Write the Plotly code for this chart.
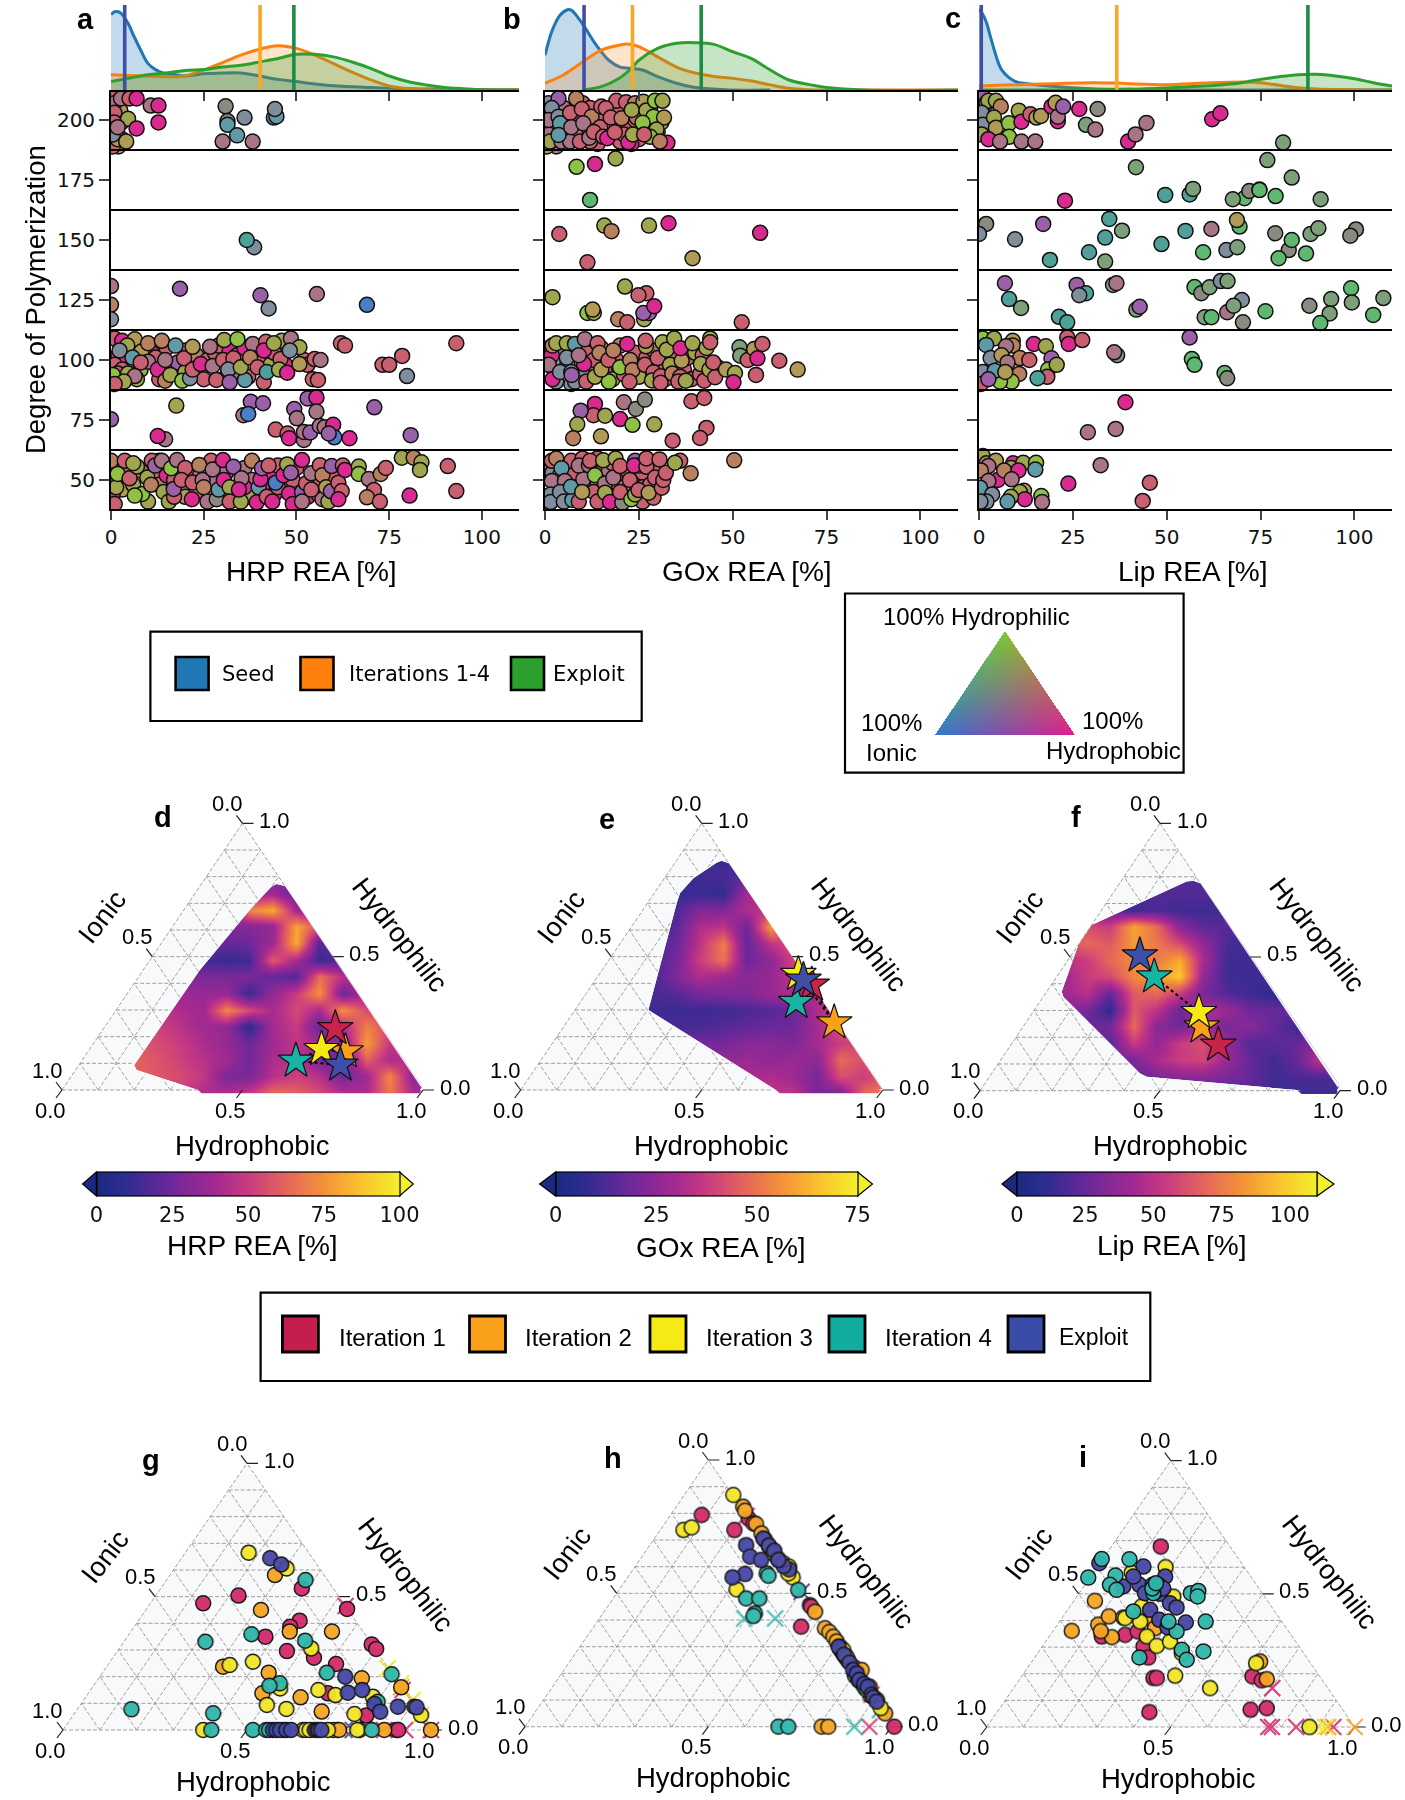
import numpy as np
import plotly.graph_objects as go

W, H = 1405, 1800
def fx(p): return p / W
def fy(p): return 1 - p / H

PAL = dict(p='#d92a8f', r='#c9606f', o='#b9805f', n='#b09a55', g='#9fa64e', l='#8fc244', s='#808d9c',
           t='#5f9aa6', v='#9a60a8', m='#a87486', b='#4a7fc8', e='#7da07a', q='#5fb86f', a='#4fa098', c='#8a8a80')

# ---------- panel a: HRP REA vs degree of polymerization ----------
A_200_BACK = [(1,205,'o'),(0.5,201,'r'),(2.5,204,'n'),(0.5,197,'m'),(3,192,'s'),(2,189,'n'),(0.5,189,'r'),(2.8,199,'n'),(1,210,'r')]
A_200 = [(0.9,207,'m'),(0.9,203,'r'),(0.9,199,'r'),(1.6,196.5,'p'),(1.8,192,'n'),(4.1,191,'n'),(2.7,209,'m'),(5,209,'r'),
 (6.9,209,'p'),(4.6,200.5,'g'),(0.5,194,'s'),(6.9,196.5,'p'),(1.8,197,'m'),(10.7,206,'m'),(12.8,206,'p'),(12.8,199,'p'),
 (30.9,205.7,'c'),(31.4,199.6,'c'),(31.4,198,'t'),(36,201,'s'),(34,193.6,'t'),(30.1,191,'m'),(38.2,191,'m'),
 (43.9,201,'s'),(44.6,201.5,'t'),(44.2,204.6,'s')]
A_150 = [(38.6,147,'s'),(36.6,150,'a'),(0,130.8,'m'),(18.6,129.7,'v'),(40.3,127,'v'),(55.5,127.5,'m'),(69,123,'b'),
 (42.5,121.5,'s'),(0,123,'o'),(0,117,'s')]
A_100_BACK = [(2,102,'r'),(4,100,'p'),(6,97,'r'),(8,96,'g'),(11,103,'p'),(12,101,'r'),(15,105,'r'),(16,98,'r'),(18,99,'v'),(20,104,'r'),(23,102,'o'),
 (24,95,'r'),(25,92,'r'),(26,100,'r'),(28,103,'r'),(29,106,'r'),(31,93,'m'),(32,104,'p'),(34,102,'r'),(35,94,'m'),(36,105,'p'),(37,93,'r'),(39,103,'r'),
 (40,99,'r'),(43,98,'g'),(44,103,'r'),(46,108,'g'),(47,98,'p'),(52,100,'r'),(53,98,'r'),(20,95,'g'),(13,92,'r'),(5,105,'g'),(7,92,'g'),(9,105,'r')]
A_100 = [(0.9,109,'r'),(3,108,'p'),(6.4,108.6,'n'),(4.4,106,'g'),(2.3,104,'s'),(8.2,103.5,'n'),(5.8,101,'t'),(10,107,'o'),
 (13.7,108,'o'),(10,99.3,'m'),(8,99,'r'),(1,98,'r'),(3,96,'r'),(1.8,94.4,'r'),(0.5,93.8,'l'),(4.6,94.4,'g'),(6.4,93.3,'m'),
 (3.5,91,'g'),(1,90,'r'),(12.6,96,'p'),(14.6,91.4,'o'),(16,93.8,'g'),(17.4,106,'t'),(14.6,100,'m'),(19.2,91.4,'l'),(21.3,92.4,'s'),
 (19.7,100.7,'r'),(22,96,'r'),(22,105.5,'n'),(24.2,98.3,'p'),(26.7,105.5,'m'),(27.4,97.5,'m'),(30.2,100,'r'),(28.4,91.7,'r'),
 (30.5,108.3,'g'),(33,100.7,'r'),(31.6,96,'s'),(32,90.7,'v'),(34.1,108.7,'l'),(36.1,91.7,'t'),(35,97,'g'),(38.2,106.7,'m'),
 (37.5,101,'o'),(39.5,97,'r'),(41.8,107.6,'r'),(41.2,104,'p'),(41.2,90.7,'r'),(42,95,'a'),(43.9,107,'g'),(45.7,100.4,'r'),
 (45.3,96,'g'),(47.5,94.7,'p'),(48.5,109,'m'),(50.8,105.3,'g'),(48.2,104,'s'),(50.8,98.3,'n'),(54.4,92,'r'),(55.8,91.7,'r'),
 (54.9,100.4,'r'),(56.5,100,'m'),(62,107,'r'),(63.1,106,'r'),(78.5,101.7,'r'),(73.2,98,'r'),(75,98,'r'),(79.8,93.3,'s'),(93.1,107,'r')]
A_75 = [(17.6,81,'g'),(53,84,'v'),(55.4,84.4,'p'),(55.4,78.5,'m'),(49.4,79.6,'v'),(50.1,75.7,'m'),(37.7,82.6,'v'),(41,82,'v'),
 (35.7,77,'m'),(37,77.5,'b'),(71,80.3,'v'),(0,75.3,'v'),(44.4,71,'r'),(47.6,69.4,'r'),(48,67.4,'p'),(52,66.7,'m'),(52,70,'m'),
 (53.7,69.8,'v'),(56.3,72.5,'m'),(57.6,72,'m'),(59.9,73,'p'),(60.2,67.8,'b'),(58.7,69.4,'v'),(64.3,67.4,'p'),(80.8,68.7,'v'),
 (14.6,67,'m'),(12.6,68.3,'p')]
A_50_BACK = [(1,50,'o'),(3,46,'n'),(2,55,'o'),(4,53,'r'),(6,48,'g'),(8,54,'o'),(12,52,'r'),(13,48,'o'),(15,52,'p'),(17,50,'r'),(19,47,'m'),(21,53,'r'),(23,45,'r'),
 (24,52,'m'),(26,46,'o'),(27,58,'r'),(28,50,'m'),(29,55,'p'),(31,53,'m'),(33,44,'r'),(36,55,'m'),(37,43,'g'),(38,50,'m'),(41,46,'p'),(43,52,'p'),(44,44,'p'),(45,56,'r'),
 (47,47,'p'),(49,50,'r'),(50,55,'r'),(53,43,'p'),(55,49,'r'),(56,44,'r'),(57,42,'m'),(60,51,'r'),(20,43,'n'),(10,41,'g'),(13,58,'r'),(31,44,'n'),(36,47,'p')]
A_50 = [(0,58,'o'),(0.5,44.4,'p'),(1,40,'r'),(1.4,47,'g'),(3.7,58,'r'),(1.8,52.5,'l'),(5,50.7,'r'),(7,55.6,'g'),(6,57,'g'),(9.8,51,'g'),
 (8.4,44.2,'l'),(6.4,43.5,'l'),(11,58,'r'),(10.8,48,'o'),(11.9,56,'v'),(13.7,58,'m'),(14.2,45,'g'),(15.6,41,'g'),(17,43,'r'),(16.9,46.3,'v'),
 (16.2,54.9,'l'),(17.8,58.3,'m'),(20,55,'r'),(19,50,'r'),(22,49,'r'),(21.8,42,'p'),(23.8,56.3,'o'),(24.7,50,'m'),(26,41,'m'),(25,47,'o'),
 (27.4,54.4,'m'),(28.5,42,'c'),(29,46,'t'),(30.2,58.3,'p'),(30.4,50,'p'),(32,47,'g'),(32,41,'r'),(33,55.5,'v'),(35,41,'g'),(35.2,50.7,'m'),
 (34.5,46,'p'),(38,58,'o'),(39.8,47,'t'),(39.3,40.7,'p'),(40.3,50.3,'p'),(40.7,54.9,'v'),(42.5,56,'r'),(42,43,'r'),(43.5,41,'p'),(45,47,'r'),
 (44.4,48.9,'b'),(46.5,52,'p'),(47.5,56.5,'g'),(48.5,53,'v'),(48,44.4,'p'),(49,40,'p'),(51.5,58.3,'p'),(51.5,45,'v'),(51.5,41,'m'),(52.6,48.6,'r'),
 (54,52.8,'m'),(54,46,'r'),(56.3,56.2,'r'),(57,52,'o'),(58.6,41,'g'),(59.5,55.8,'v'),(58,47,'n'),(59.3,45.3,'v'),(61.3,48.9,'r'),(62.2,45.4,'r'),
 (61.3,42,'p'),(62.5,56,'r'),(63.1,54.2,'p'),(66.8,55.6,'g'),(66.8,52.5,'l'),(69.5,50.4,'m'),(70.9,45.8,'r'),(69,42.8,'o'),(72.5,41,'r'),
 (72.7,52.5,'o'),(74.1,55,'r'),(78.4,59.3,'g'),(81.6,59.3,'o'),(83.7,57.4,'g'),(83.3,54.2,'g'),(80.5,43.5,'p'),(90.8,55.8,'r'),(93.1,45.4,'r')]

# ---------- panel b: GOx REA ----------
B_200_BACK = [(1,207,'s'),(2.5,197,'s'),(1,194,'m'),(5,205,'m'),(5,200,'s'),(6,194,'m'),(8,201,'r'),(10,207,'r'),(10,194,'r'),(12,205,'r'),(13,199,'r'),(14,190,'r'),(15,201,'r'),
 (17,195,'r'),(18,198,'r'),(19,204,'r'),(20,191,'r'),(19,208,'r'),(22,198,'r'),(24,200,'o'),(25,192,'r'),(26,203,'o'),(28,205,'n'),(30,195,'g'),(21,194,'r'),(23,190,'p'),(31,199,'g'),(8,195,'m'),(12,191,'r'),(3,189,'m'),(0.5,189,'n')]
B_200 = [(3.6,209,'v'),(1.8,205,'s'),(1,200,'m'),(3.6,201.4,'s'),(1.3,191,'g'),(8.3,209,'o'),(6.7,203,'r'),(9.8,204.6,'r'),(4,198.6,'t'),
 (4.4,191,'m'),(6.7,191,'m'),(9.3,191,'r'),(3.6,193.8,'t'),(7,197,'m'),(12.4,201.4,'o'),(10.2,198.6,'m'),(11.8,192.6,'m'),(15,205.6,'r'),(16.2,204.9,'r'),
 (14.7,197,'r'),(13,195,'r'),(17.5,201,'r'),(15.5,193,'r'),(16.6,192.4,'p'),(18.6,194.9,'r'),(20.4,200.7,'o'),(21.6,207.4,'r'),(24,207,'o'),
 (24.4,201,'r'),(26.2,207.6,'n'),(23.1,204.2,'g'),(27,204,'g'),(29.3,208,'l'),(31.3,208,'g'),(28.9,201.4,'l'),(31.7,201,'n'),(26,198.9,'l'),(29.7,196,'g'),
 (22.2,190.7,'p'),(23.4,194,'g'),(28,193,'l'),(26.4,194,'r'),(32.6,190.5,'p'),(30.6,191,'o')]
B_150 = [(8.4,180.5,'l'),(13.3,181.7,'p'),(18.8,184,'g'),(12,166.7,'q'),(3.8,152.5,'r'),(15.8,156,'g'),(17.7,153.7,'o'),(27.7,156,'g'),(32.9,157,'p'),
 (57.3,153,'p'),(11.3,140.7,'r'),(39.3,142.4,'n'),(2,126.2,'g'),(21.3,130.6,'g'),(27,127.8,'r'),(24.9,127,'r'),(26.4,117,'g'),(27.7,119.6,'v'),(26.2,119.6,'v'),(29.1,122.4,'p'),
 (19.5,117,'o'),(21.9,115.7,'r'),(11.3,119.6,'l'),(13,119.6,'g'),(12.7,121,'n'),(52.4,115.7,'r')]
B_100_BACK = [(1,105,'m'),(3,100,'s'),(5,104,'m'),(6,98,'m'),(9,105,'m'),(11,103,'r'),(12,96,'r'),(13,100,'r'),(15,105,'o'),(16,95,'r'),(18,92,'g'),(19,100,'r'),(20,106,'o'),(21,94,'r'),
 (24,103,'r'),(25,97,'r'),(25,93,'g'),(27,101,'r'),(28,97,'r'),(29,104,'r'),(31,96,'r'),(32,92,'r'),(34,102,'r'),(35,96,'r'),(37,96,'r'),(38,101,'r'),(39,92,'r'),(40,103,'g'),(42,102,'r'),(46,97,'r'),(10,94,'s'),(7,90,'s'),(3,91,'s')]
B_100 = [(1.8,102,'p'),(2,106,'o'),(3,107,'g'),(1,98,'m'),(2,92,'p'),(5.8,107,'g'),(8,106.7,'t'),(5.8,101,'s'),(4,95,'s'),(7,95,'s'),(8,91,'s'),(7.1,93.8,'v'),
 (10.4,98.3,'p'),(10.6,108.7,'m'),(9,102,'m'),(11,91,'r'),(14,107,'r'),(14.5,103,'o'),(13.3,93,'g'),(17,91,'l'),(15,96,'n'),(16.9,100,'r'),(18.2,104,'o'),
 (20,97,'l'),(21.9,106.7,'p'),(22.7,100,'o'),(23.3,95.8,'o'),(22.5,91,'r'),(26.9,105.7,'g'),(26.8,108,'r'),(26.6,98,'r'),(28.9,94.9,'r'),(28.5,91.5,'g'),
 (30,100.8,'r'),(31.3,107.4,'g'),(32.4,104.3,'g'),(30.8,93.2,'r'),(30.8,90.5,'r'),(33.3,98,'g'),(34.4,109,'g'),(33.9,94.4,'o'),(36.4,99.7,'n'),(36.1,104.9,'p'),
 (36,93,'r'),(35.5,91,'r'),(37.5,91.4,'g'),(39.3,107,'g'),(41.3,94.2,'r'),(41.5,98.3,'g'),(42.4,91.4,'r'),(43,105,'g'),(44,109,'g'),(44,107.4,'r'),(43.8,96,'g'),(44.8,99,'r'),
 (45.3,92.8,'r'),(48.2,96,'n'),(50.6,94.6,'g'),(50.2,90.7,'p'),(51.8,105.3,'e'),(52,101.8,'e'),(54,100,'r'),(55.7,104.6,'n'),(57.9,106.7,'r'),(56.6,100.7,'p'),(56.2,93.8,'r'),(62.4,99.7,'r'),(67.3,96,'n')]
B_75 = [(13.3,81.7,'p'),(12.9,77,'r'),(9.5,78.9,'v'),(16,76.8,'g'),(8.6,73.2,'g'),(7.5,67.4,'o'),(14.9,68.2,'n'),(20,75.4,'p'),(23.3,73,'l'),(29.1,73.2,'g'),
 (21,82.4,'m'),(24.2,79.6,'c'),(26.6,83.5,'c'),(39,82.8,'r'),(42.4,84.2,'r'),(43,71.7,'r'),(41.3,67.5,'r'),(34,66.4,'r')]
B_50_BACK = [(0.5,55,'r'),(2,53,'s'),(3,46,'s'),(4,52,'m'),(6,55,'m'),(7,50,'m'),(8,46,'s'),(8,53,'r'),(10,47,'r'),(11,53,'r'),(12,48,'r'),(14,55,'r'),(14,49,'r'),(15,42,'r'),(17,54,'m'),(17,47,'r'),
 (18,42,'r'),(19,49,'r'),(20,52,'r'),(21,47,'r'),(22,54,'r'),(23,46,'o'),(25,50,'r'),(26,53,'r'),(26,41,'r'),(26,47,'r'),(28,48,'r'),(29,55,'r'),(18,57,'r'),(14,59,'r')]
B_50 = [(1.8,58,'r'),(3,59,'o'),(7,58,'r'),(10,59,'r'),(1.8,49.6,'m'),(1.5,44,'s'),(1.5,40.8,'s'),(4.4,54.9,'t'),(5.3,49.6,'m'),(4,45,'s'),(5,41,'s'),(7.3,41.7,'t'),(6.9,47.2,'t'),
 (9,41,'r'),(10.2,50.3,'m'),(9,56,'m'),(11.7,56.2,'m'),(12,58,'r'),(13.3,52,'l'),(13,45,'r'),(14,41,'r'),(15.5,58.2,'g'),(16,48.6,'m'),(16,44.7,'g'),(9.9,45,'n'),
 (17.3,40.8,'p'),(18.2,51,'m'),(18.8,59,'g'),(20,55.8,'r'),(20.6,40.5,'c'),(20,45,'r'),(22.6,50,'r'),(23,42,'l'),(24,44,'g'),(24.9,45.8,'r'),(24,58,'v'),(25,56,'g'),(23.7,56,'p'),(27,55.5,'r'),(27,59,'r'),
 (29.3,51,'r'),(28.9,42.6,'r'),(27.6,44.7,'n'),(31.1,46.8,'r'),(31.5,50,'r'),(32.2,53,'r'),(30.5,58.6,'r'),(36,58,'r'),(34.6,57.2,'g'),(38.8,52.8,'o'),(50.4,58.2,'o')]

# ---------- panel c: Lip REA ----------
C_200 = [(1,210,'v'),(2,207,'s'),(2.5,208,'g'),(4.5,208,'g'),(5.8,205.6,'o'),(0.7,203,'s'),(1,198,'s'),(0.7,194,'g'),(4,201,'g'),(4.5,196.8,'n'),(2.5,192,'p'),(8,198.6,'l'),
 (8,193,'l'),(5.6,191,'m'),(10.6,203.9,'g'),(11.3,199.3,'p'),(11.3,191,'m'),(15,191,'m'),(13.7,202.4,'r'),(15.3,201,'n'),(16.5,201.7,'n'),(19.3,205.6,'p'),(20.4,207.2,'n'),
 (21,199.5,'p'),(21,201.4,'m'),(22.4,205.6,'v'),(26.7,204.6,'p'),(31.6,204.6,'c'),(28.5,198,'e'),(31,196,'m'),(39.7,191,'p'),(41.7,194,'m'),(44.6,198.8,'m'),(62.1,200.3,'p'),(64.3,202.8,'p')]
C_150 = [(81,190.6,'e'),(76.8,183.3,'e'),(41.8,180.3,'e'),(83.3,176,'e'),(49.6,168.8,'a'),(56.1,169,'a'),(57,171.3,'e'),(22.9,166.4,'p'),(70.7,167.4,'q'),(72,170.4,'c'),(74.7,171,'c'),(67.6,167,'e'),(74.7,170.8,'q'),
 (79,168.3,'q'),(91,167,'e'),(1.9,156.7,'c'),(0,152.5,'s'),(9.6,150.3,'s'),(17.1,156.7,'v'),(18.9,141.7,'a'),(29.3,144.9,'a'),(33.6,151,'a'),(33.6,141,'e'),(34.7,158.8,'a'),(38.1,153.9,'e'),
 (48.6,148.3,'a'),(55,153.8,'a'),(59.7,144.9,'q'),(61.9,154.6,'m'),(65.9,145.8,'s'),(68.8,147,'e'),(69.4,155.6,'q'),(68.7,158.3,'n'),(78.9,152.8,'c'),(82.5,145.8,'c'),(83.3,150,'q'),(79.8,142.4,'q'),(87.1,144.4,'q'),
 (88.3,152.5,'e'),(90.4,154.9,'e'),(100.4,154.4,'c'),(98.9,151.8,'c')]
C_125 = [(6.9,132,'v'),(8,125.4,'a'),(11.2,121.7,'e'),(26,131.3,'v'),(28.5,127.8,'a'),(26.7,127,'s'),(35.7,131.3,'e'),(36.6,132,'m'),(57.4,130.4,'q'),(59.2,127.8,'c'),(61.4,130.3,'e'),(64.4,132.9,'s'),(66.2,132.9,'e'),
 (70,125,'s'),(66.1,119.9,'m'),(67.8,122.6,'e'),(70.3,115.7,'c'),(60.1,117.8,'e'),(61.9,117.8,'q'),(76.3,120.3,'q'),(88,122.6,'c'),(93.8,125.4,'e'),(99.1,129.9,'q'),(99.3,124,'e'),(93.4,119.4,'e'),(90.9,115.4,'q'),
 (105,118.8,'q'),(107.7,125.8,'e'),(21.3,118,'a'),(23.5,115.7,'a'),(41.9,121,'e'),(42.8,122.2,'v')]
C_100 = [(1,109,'l'),(4,109,'g'),(9,108,'n'),(1.9,106.3,'t'),(9,106,'o'),(7.2,105.7,'m'),(3.1,100.8,'s'),(6,102,'n'),(10.9,100.8,'o'),(7.6,99,'m'),(13.4,100,'r'),(14.6,106.7,'p'),(17.8,105.7,'g'),
 (19.3,100.7,'v'),(18.4,96,'l'),(20.7,98,'g'),(18.2,93,'r'),(15.6,92.4,'a'),(10.7,94.2,'o'),(8.7,91,'l'),(5.6,91,'l'),(1,95,'s'),(4.2,95.5,'t'),(7,95,'n'),(0.5,90,'r'),(2.5,92,'v'),(23.5,109.4,'r'),(23.9,106.7,'p'),(27.5,108.3,'r'),
 (36.8,102,'s'),(36,103.2,'m'),(56.1,109.4,'v'),(56.7,100.4,'q'),(57.4,98,'q'),(65.4,94.6,'q'),(66.1,92.4,'c')]
C_75 = [(39,82.4,'p'),(36.4,71.3,'m'),(29,69.9,'m')]
C_50 = [(1,60,'g'),(2,57,'o'),(4.5,58,'n'),(2.5,55.8,'m'),(0.5,54,'o'),(5,50,'p'),(2.5,49.6,'m'),(0.3,46.8,'t'),(3.5,44,'s'),(2,41,'s'),(0.4,41,'s'),(9.1,57,'p'),(8.5,55,'g'),(6.7,54,'o'),(11.8,57.2,'g'),(10.5,54,'p'),(8.7,50.3,'m'),
 (12,45.5,'n'),(10.9,45,'g'),(12.2,42,'p'),(8.5,43,'g'),(7.6,41,'t'),(15.2,57.2,'l'),(15,54.4,'t'),(16.6,43.3,'l'),(16.8,40.8,'m'),(23.8,48.5,'p'),(32.4,56.2,'m'),(45.5,48.9,'r'),(43.6,41.3,'r')]

Y_EDGES = [187.5, 162.5, 137.5, 112.5, 87.5, 62.5]
X_TICKS = [0, 25, 50, 75, 100]
Y_TICKS = [50, 75, 100, 125, 150, 175, 200]

# ---------- KDE curves ----------
A_SEED_X = [0,1,2,3,4,5,6,8,10,12,14,16,20,25,30,35,40,45,50,55,60,70,80,90,110]
A_SEED_D = [.89,.92,.92,.89,.83,.75,.65,.47,.31,.24,.2,.19,.165,.19,.2,.2,.165,.125,.1,.07,.05,.03,.015,.01,0]
A_ITER_X = [0,5,10,15,20,25,30,35,40,45,50,55,60,65,70,75,80,85,110]
A_ITER_D = [.18,.17,.165,.157,.165,.235,.32,.41,.48,.52,.49,.41,.31,.21,.12,.047,.016,.004,0]
A_EXPL_X = [0,5,10,15,20,25,30,35,40,45,50,55,60,65,70,75,80,85,90,95,100,110]
A_EXPL_D = [.1,.14,.18,.2,.23,.24,.27,.29,.33,.37,.42,.42,.39,.33,.255,.165,.1,.06,.03,.016,.004,0]
B_SEED_X = [0,2,4,6,7,9,11,13,15,17,20,23,26,30,35,40,45,50,60]
B_SEED_D = [.41,.71,.88,.945,.94,.84,.71,.57,.45,.35,.27,.255,.235,.157,.08,.03,.012,0,0]
B_ITER_X = [0,5,10,15,20,22,25,30,35,40,45,50,55,60,65,70,75,110]
B_ITER_D = [.08,.18,.33,.47,.53,.54,.51,.39,.27,.2,.16,.137,.106,.06,.02,.004,0,0]
B_EXPL_X = [10,15,20,23,25,30,35,40,45,50,55,60,65,70,75,85,110]
B_EXPL_D = [0,.04,.145,.255,.35,.49,.55,.557,.537,.45,.37,.235,.118,.067,.03,0,0]
C_SEED_X = [0,1,2,3,4,5,6,8,10,14,20,30,40,50,110]
C_SEED_D = [.95,.89,.79,.635,.48,.34,.24,.145,.094,.067,.04,.016,.008,0,0]
C_ITER_X = [0,5,10,20,30,36,40,50,60,70,75,80,85,90,110]
C_ITER_D = [.047,.055,.063,.075,.086,.082,.075,.063,.082,.094,.086,.055,.027,.012,0]
C_EXPL_X = [0,20,30,40,50,60,65,70,75,80,85,90,95,100,105,110]
C_EXPL_D = [0,0,.004,.008,.024,.047,.063,.086,.125,.157,.18,.184,.165,.133,.086,.047]
A_MEANS = [3.7, 40.2, 49.3]
B_MEANS = [10.4, 23.3, 41.6]
C_MEANS = [0.6, 36.7, 87.6]

# ---------- activity maps (x = position along base, h = hydrophilic fraction) ----------
D_X = [.197,.262,.326,.391,.455,.52,.584,.649,.714,.778,.843,.908,.972,1.037]
D_H = [-.0125,.05,.1125,.175,.2375,.3,.3625,.425,.4875,.55,.6125,.675,.7375,.7875]
D_Z = [[60,55,50,42,42,50,65,62,55,45,42,68,42,40],
 [62,58,55,48,28,28,45,52,45,25,38,72,32,35],
 [62,58,52,45,38,25,42,45,28,20,60,42,45,40],
 [60,55,50,42,35,25,38,48,40,28,78,48,50,50],
 [55,52,46,38,35,8,40,50,22,42,70,55,55,55],
 [50,48,42,38,72,55,40,55,40,75,55,50,50,50],
 [45,42,38,35,35,12,35,50,75,25,40,40,40,40],
 [35,35,30,28,28,28,22,18,65,45,40,40,40,40],
 [30,30,25,14,12,14,60,40,12,20,30,30,30,30],
 [30,30,25,25,22,25,38,82,18,30,30,30,30,30],
 [30,30,30,30,30,30,35,80,55,35,35,35,35,35],
 [30,30,30,30,30,72,82,38,30,30,30,30,30,30],
 [30,30,30,30,30,35,38,22,30,30,30,30,30,30],
 [30,30,30,30,30,30,30,30,30,30,30,30,30,30]]
D_HULL = [(.594,.7725),(.6175,.765),(.998,.0125),(.991,-.0125),(.3865,-.0125),(.377,0),(.2066,.075),(.2,.094),(.216,.125),(.382,.45),(.52,.675),(.58,.7625)]
E_X = [.302,.366,.431,.495,.56,.624,.689,.753,.818,.882,.947,1.011]
E_H = [-.0125,.05,.1125,.175,.2375,.3,.3625,.425,.4875,.55,.6125,.675,.7375,.8,.85]
E_Z = [[25,25,25,25,25,30,35,35,20,20,48,52],
 [25,25,25,25,25,30,32,28,20,42,38,45],
 [25,25,25,25,25,28,25,28,24,48,42,45],
 [20,20,20,20,20,24,24,22,30,38,42,42],
 [12,12,12,12,14,16,18,18,30,42,42,42],
 [10,10,10,10,10,12,14,18,32,38,38,38],
 [12,12,14,20,22,22,28,30,30,30,30,30],
 [12,12,22,32,28,24,26,36,36,36,36,36],
 [12,12,20,38,50,18,25,40,40,40,40,40],
 [12,12,18,35,52,16,35,42,40,40,40,40],
 [12,12,15,32,35,18,58,42,40,40,40,40],
 [12,12,13,22,22,32,36,36,36,36,36,36],
 [8,8,8,10,8,30,30,30,30,30,30,30],
 [8,8,8,10,12,14,14,14,14,14,14,14],
 [10,10,10,10,10,10,10,10,10,10,10,10]]
E_HULL = [(.555,.86),(.575,.85),(1.0,.006),(.988,-.0125),(.716,-.0125),(.705,0),(.3527,.3),(.431,.7),(.44,.7375),(.477,.794),(.541,.8525)]
F_X = [.2315,.296,.361,.426,.491,.556,.62,.685,.75,.815,.88,.944,1.009]
F_H = [-.01,.052,.115,.177,.239,.302,.364,.426,.489,.551,.613,.676,.738,.788]
F_Z = [[20,20,20,20,20,20,20,20,20,15,15,15,15],
 [20,20,20,25,30,35,35,30,25,15,18,18,18],
 [22,22,25,30,45,55,58,40,25,15,25,52,30],
 [22,22,22,55,38,55,62,40,20,22,25,35,30],
 [25,22,30,70,35,28,45,30,35,25,15,25,25],
 [30,30,10,65,50,25,48,40,28,25,25,25,25],
 [42,50,25,65,70,55,30,20,15,10,10,10,10],
 [42,55,60,80,85,98,38,15,15,15,15,15,15],
 [50,55,70,80,75,90,45,15,15,15,15,15,15],
 [60,70,65,85,75,60,38,18,15,15,15,15,15],
 [60,60,55,88,70,35,22,22,18,18,18,18,18],
 [30,30,25,15,18,15,15,15,15,15,15,15,15],
 [20,20,20,20,20,20,20,20,20,20,20,20,20],
 [20,20,20,20,20,20,20,20,20,20,20,20,20]]
F_HULL = [(.5926,.7855),(.6122,.7756),(.998,.021),(.991,-.0125),(.8935,-.0125),(.88,.0025),(.463,.052),(.444,.065),(.2315,.3516),(.227,.37),(.273,.545),(.31,.62),(.574,.782)]

D_STARS = [(.785,.144),(.757,.231),(.719,.1525),(.648,.109),(.771,.094)]
E_STARS = [(.866,.2525),(.804,.394),(.767,.434),(.761,.329),(.781,.4125)]
F_STARS = [(.616,.239),(.662,.171),(.608,.293),(.484,.426),(.444,.505)]
STAR_ORDER_COLORS = ['#f9a11b','#c8234a','#f5ea14','#17b3a3','#3f4fa8']

# ---------- composition scatter: (x along base, hydrophilic) ----------
G_PINK = [(.649,.531),(.477,.504),(.381,.475),(.772,.454),(.643,.41),(.6175,.3875),(.55,.35),(.6085,.296),(.682,.271),(.742,.2475),(.839,.321),(.851,.304),(.72,.1375),(.824,.054),(.905,0),(.911,0)]
G_ORANGE = [(.576,.581),(.538,.45),(.616,.369),(.731,.369),(.435,.2375),(.559,.215),(.542,.1375),(.6456,.1225),(.703,.069),(.812,.194),(.919,.16),(.735,0),(.75,0),(1.0,0),(.873,0)]
G_YELLOW = [(.5045,.665),(.6076,.606),(.6745,.306),(.516,.256),(.453,.244),(.59,.156),(.554,.094),(.607,.079),(.694,.15),(.74,.131),(.792,.06),(.381,0),(.652,0),(.66,0),(.67,0),(.72,0),(.806,0),(.8,0),(.973,.056),(.842,.125)]
G_TEAL = [(.659,.5625),(.387,.331),(.512,.359),(.658,.335),(.717,.215),(.589,.175),(.561,.166),(.893,.209),(.186,.0775),(.408,.0625),(.403,0),(.516,0),(.552,0),(.56,0),(.6,0),(.839,0),(.855,.106)]
G_BLUE = [(.563,.644),(.593,.621),(.767,.2),(.774,.14),(.813,.15),(.846,.0975),(.862,.069),(.91,.0875),(.955,.0875),(.961,.085),(.5705,0),(.58,0),(.59,0),(.607,0),(.62,0),(.684,0),(.69,0),(.695,0),(.702,0)]
G_X_PINK = [(.768,.465),(.923,.15),(.824,.05),(.873,0),(.93,0),(1.0,0)]
G_X_YELLOW = [(.882,.231),(.919,.175),(.95,.1125),(.973,.056),(.783,0)]
G_X_BLUE = [(.765,0),(.7875,0)]
G_X_ORANGE = [(.919,.16)]
G_X_TEAL = []

H_PINK = [(.482,.794),(.571,.7375),(.753,.375),(.777,.456),(.78,.45),(.61,.78),(.623,.7625),(.865,.281),(.875,.26),(1.007,0)]
H_ORANGE = [(.595,.825),(.6,.81),(.63,.76),(.645,.725),(.791,.431),(.818,.369),(.83,.355),(.841,.3375),(.85,.32),(.859,.3),(.86,.29),(.87,.27),(.88,.25),(.9,.22),(.94,.15),(.809,0),(.827,0),(.982,.05),(.918,.2125),(.96,.1)]
H_YELLOW = [(.568,.869),(.432,.7375),(.4545,.7475),(.655,.7),(.666,.675),(.677,.65),(.69,.63),(.705,.6125),(.72,.6),(.73,.56),(.718,.575),(.577,.515),(.868,.2875),(.877,.2625),(.9,.2),(.941,.119),(.93,.14),(.97,.07)]
H_TEAL = [(.659,.575),(.664,.566),(.745,.5125),(.603,.481),(.639,.481),(.627,.425),(.623,.415),(.691,0),(.718,0),(.9,.19),(.909,.175),(.92,.16),(.925,.15)]
H_BLUE = [(.65,.706),(.603,.681),(.614,.6375),(.644,.625),(.6,.5725),(.566,.56),(.665,.68),(.68,.66),(.72,.59),(.705,.6025),(.691,.625),(.855,.3),(.87,.27),(.885,.24),(.895,.2125),(.905,.2),(.912,.175),(.925,.16),(.935,.15),(.945,.12),(.95,.11),(.959,.094)]
H_X_PINK = [(.939,0),(.6045,.79),(.945,.12)]
H_X_ORANGE = []
H_X_YELLOW = []
H_X_BLUE = [(.7545,.506)]
H_X_TEAL = [(.598,.406),(.682,.406),(.898,0),(.968,.0625)]

I_PINK = [(.473,.6775),(.3125,.34),(.376,.346),(.41,.359),(.426,.3025),(.439,.261),(.453,.184),(.462,.184),(.442,.056),(.722,.19),(.747,.175),(.717,.065),(.761,.071)]
I_ORANGE = [(.294,.474),(.231,.361),(.303,.384),(.332,.415),(.371,.411),(.34,.3375),(.444,.409),(.457,.371),(.743,.246),(.761,.18),(.31,.36)]
I_YELLOW = [(.486,.6),(.394,.58),(.507,.49),(.376,.409),(.417,.396),(.435,.34),(.462,.305),(.498,.321),(.53,.2775),(.512,.1925),(.607,.146),(.732,.24),(.877,0),(.421,.4525)]
I_BLUE = [(.306,.615),(.426,.6025),(.371,.5275),(.415,.534),(.485,.565),(.451,.534),(.43,.5025),(.471,.5),(.47,.53),(.46,.51),(.48,.52),(.498,.465),(.516,.449),(.444,.44),(.469,.4025),(.541,.3925),(.491,.375),(.3985,.565)]
I_TEAL = [(.3125,.631),(.276,.561),(.388,.63),(.35,.569),(.335,.534),(.353,.515),(.3985,.434),(.453,.5025),(.45,.52),(.46,.54),(.555,.5025),(.575,.511),(.573,.49),(.595,.396),(.589,.284),(.516,.359),(.494,.396),(.53,.29),(.5435,.2525),(.415,.261)]
I_X_PINK = [(.776,.146),(.765,0),(.775,0),(.841,0),(.942,0)]
I_X_ORANGE = [(.928,0),(1.0,0)]
I_X_YELLOW = [(.904,0),(.92,0)]
I_X_BLUE = []
I_X_TEAL = []

C_PINK, C_ORANGE, C_YELLOW, C_TEAL, C_BLUE = '#d42a6c', '#f5a623', '#f2e626', '#2fb7aa', '#4646a8'
HEAT = [[0,'#1b2a80'],[.1,'#2f2c90'],[.25,'#70289a'],[.4,'#a62a90'],[.5,'#c83c80'],[.62,'#e4645c'],[.75,'#f39238'],[.88,'#fbc52e'],[1,'#f2f02a']]
SANS, DJ = 'Liberation Sans', 'DejaVu Sans'

fig = go.Figure()
layout = dict(width=W, height=H, margin=dict(l=0, r=0, t=0, b=0), autosize=False, paper_bgcolor='white', plot_bgcolor='white',
              showlegend=False, template='none')
ann, shapes = [], []

def text(x, y, s, size=22, font=SANS, bold=False, angle=0, xa='center', ya='middle', xref='paper', yref='paper', dx=0, dy=0):
    ann.append(dict(x=x, y=y, text=('<b>%s</b>' % s) if bold else s, font=dict(size=size, family=font, color='black'), showarrow=False,
                    xanchor=xa, yanchor=ya, textangle=angle, xref=xref, yref=yref, xshift=dx, yshift=dy))
def ptext(px, py, s, **kw):
    text(fx(px), fy(py), s, **kw)
def box(x0, y0, x1, y1, fill='white', lw=2.2, line='black'):
    shapes.append(dict(type='rect', xref='paper', yref='paper', x0=fx(x0), x1=fx(x1), y0=fy(y0), y1=fy(y1),
                       fillcolor=fill, line=dict(color=line, width=lw), layer='below'))

# ---------- top row ----------
PANELS = [(111, 519, A_200_BACK+A_200+A_150+A_100_BACK+A_100+A_75+A_50_BACK+A_50, 'HRP REA [%]', 311, A_SEED_X, A_SEED_D, A_ITER_X, A_ITER_D, A_EXPL_X, A_EXPL_D, A_MEANS),
          (545, 958, B_200_BACK+B_200+B_150+B_100_BACK+B_100+B_75+B_50_BACK+B_50, 'GOx REA [%]', 747, B_SEED_X, B_SEED_D, B_ITER_X, B_ITER_D, B_EXPL_X, B_EXPL_D, B_MEANS),
          (979, 1392, C_200+C_150+C_125+C_100+C_75+C_50, 'Lip REA [%]', 1192, C_SEED_X, C_SEED_D, C_ITER_X, C_ITER_D, C_EXPL_X, C_EXPL_D, C_MEANS)]
for i, (l, r, pts, title, tcx, sx, sd, ix, id_, ex, ed, means) in enumerate(PANELS):
    n = i + 1; k = i + 4
    layout['xaxis%d' % n] = dict(domain=[fx(l), fx(r)], range=[0, 110], anchor='y%d' % n, showgrid=False, zeroline=False, showline=True,
        linecolor='black', linewidth=1.8, ticks='outside', ticklen=9, tickwidth=1.5, tickvals=X_TICKS, tickfont=dict(size=20, family=DJ, color='#111'))
    layout['yaxis%d' % n] = dict(domain=[fy(509.3), fy(90)], range=[37.8, 212.5], anchor='x%d' % n, showgrid=False, zeroline=False, showline=True,
        linecolor='black', linewidth=1.8, ticks='outside', ticklen=10, tickwidth=1.5, tickvals=Y_TICKS, showticklabels=(i == 0), tickfont=dict(size=20, family=DJ, color='#111'))
    ptext(tcx, 572, title, size=28)
    if i == 0:
        layout['yaxis1']['title'] = dict(text='Degree of Polymerization', font=dict(size=27.5, family=SANS, color='black'), standoff=3)
    layout['xaxis%d' % k] = dict(domain=[fx(l), fx(r)], range=[0, 110], anchor='y%d' % k, showgrid=False, zeroline=False, showline=True, linecolor='black',
        linewidth=1.8, ticks='outside', ticklen=9, tickwidth=1.5, tickvals=X_TICKS[1:], showticklabels=False)
    layout['yaxis%d' % k] = dict(domain=[fy(90), fy(5)], range=[0, 1], anchor='x%d' % k, visible=False)
    fig.add_trace(go.Scatter(x=[p[0] for p in pts], y=[p[1] for p in pts], mode='markers', xaxis='x%d' % n, yaxis='y%d' % n,
        marker=dict(size=15, color=[PAL[p[2]] for p in pts], line=dict(color='#111', width=1.5)), name=title))
    for e in Y_EDGES:
        fig.add_trace(go.Scatter(x=[0, 110], y=[e, e], mode='lines', line=dict(color='black', width=2), xaxis='x%d' % n, yaxis='y%d' % n))
    for xs, ds, col, rgba in [(sx, sd, '#1f77b4', 'rgba(31,119,180,0.27)'), (ix, id_, '#ff7f0e', 'rgba(255,127,14,0.22)'), (ex, ed, '#2ca02c', 'rgba(44,160,44,0.27)')]:
        fig.add_trace(go.Scatter(x=xs, y=ds, mode='lines', line=dict(color=col, width=3, shape='spline', smoothing=1), fill='tozeroy', fillcolor=rgba,
                                 xaxis='x%d' % k, yaxis='y%d' % k))
    for m, col in zip(means, ['#3f4fa8', '#f9a825', '#1e8c45']):
        fig.add_trace(go.Scatter(x=[m, m], y=[0, 1], mode='lines', line=dict(color=col, width=3.6), xaxis='x%d' % k, yaxis='y%d' % k))

for s, px, py in [('a',85,19),('b',512,19),('c',953,18),('d',163,817),('e',607,819),('f',1076,817),('g',151,1460),('h',613,1458),('i',1083,1457)]:
    ptext(px, py, s, size=29, bold=True)

# ---------- legends ----------
box(150.4, 631.6, 641.7, 721)
for x0, col, lab, tx in [(175.6, '#1f77b4', 'Seed', 220.5), (300.5, '#ff7f0e', 'Iterations 1-4', 347), (511, '#2ca02c', 'Exploit', 551)]:
    box(x0, 657, x0 + 33, 690, fill=col, lw=2.6)
    ptext(tx, 674, lab, size=21, font=DJ, xa='left')
box(845, 593.5, 1183.6, 772.6)
box(260.6, 1292.7, 1150.3, 1381)
for x0, col, lab, tx, sz in [(282.4,'#c41e4f','Iteration 1',337,24),(469.5,'#f9a11b','Iteration 2',523,24),(650,'#f5ea14','Iteration 3',703.5,24),(829,'#12ad9e','Iteration 4',882.5,24),(1008,'#3b4ca8','Exploit',1057,23)]:
    box(x0, 1316, x0 + 36, 1352, fill=col, lw=2.8)
    ptext(tx, 1337, lab, size=sz, xa='left')

# colour key triangle
KW, KH = 140, 104
key = []
for yy in range(KH):
    row = []
    for xx in range(KW):
        h = 1 - (yy + .5) / KH
        u = (xx + .5) / KW
        ph = u - h / 2
        io = 1 - h - ph
        ok = ph >= 0 and io >= 0
        row.append([int(h*125+io*50+ph*225), int(h*200+io*120+ph*30), int(h*50+io*205+ph*140), 1 if ok else 0])
    key.append(row)
layout['xaxis13'] = dict(domain=[fx(934.5), fx(934.5 + KW)], range=[0, KW], anchor='y13', visible=False)
layout['yaxis13'] = dict(domain=[fy(631 + KH), fy(631)], range=[KH, 0], anchor='x13', visible=False)
fig.add_trace(go.Image(z=key, colormodel='rgba', x0=.5, dx=1, y0=.5, dy=1, xaxis='x13', yaxis='y13', hoverinfo='skip'))
ptext(977, 616, '100% Hydrophilic', size=24)
ptext(891, 722, '100%', size=24); ptext(891, 752, 'Ionic', size=24)
ptext(1112, 720, '100%', size=24); ptext(1113.5, 750, 'Hydrophobic', size=24)

# ---------- ternary frames ----------
BG = '#f8f9fb'
def in_poly(x, y, poly):
    c = False
    m = len(poly)
    for a in range(m):
        x1, y1 = poly[a]; x2, y2 = poly[(a + 1) % m]
        if (y1 > y) != (y2 > y) and x < x1 + (y - y1) * (x2 - x1) / (y2 - y1):
            c = not c
    return c

def frame(n, left, right, top, base, hob, hull=None, heat=None):
    side, hh = right - left, base - top
    layout['xaxis%d' % n] = dict(domain=[fx(left - .1 * side), fx(right + .1 * side)], range=[-.1, 1.1], anchor='y%d' % n, visible=False)
    layout['yaxis%d' % n] = dict(domain=[fy(base + .1 * hh), fy(top - .05 * hh)], range=[-.1, 1.05], anchor='x%d' % n, visible=False)
    ax = dict(xaxis='x%d' % n, yaxis='y%d' % n)
    tri = [(0, 0), (1, 0), (.5, 1)]
    if hull is None:
        fig.add_trace(go.Scatter(x=[p[0] for p in tri], y=[p[1] for p in tri], fill='toself', fillcolor=BG, mode='none', **ax))
    else:
        X, Hh, Z, zmax, ctr, blen, xc = heat
        fig.add_trace(go.Heatmap(x=X, y=Hh, z=Z, zmin=0, zmax=zmax, zsmooth='best', colorscale=HEAT, hoverinfo='skip', colorbar=dict(
            orientation='h', x=fx(xc), xanchor='center', y=fy(1172), yanchor='top', lenmode='pixels', len=blen, thicknessmode='pixels', thickness=24,
            xpad=0, ypad=0, outlinecolor='black', outlinewidth=1.2, ticks='', tickvals=ctr, tickfont=dict(size=21, family=DJ, color='#111')), **ax))
        rect = [(.05, -.08), (1.09, -.08), (1.09, .92), (.05, .92), (.05, -.08)]
        hp = list(hull) + [hull[0]]
        path = rect + hp + [rect[0]]
        fig.add_trace(go.Scatter(x=[p[0] for p in path], y=[p[1] for p in path], fill='toself', fillcolor='white', mode='none', **ax))
        hc = [(a, max(b, 0)) for a, b in hp]
        path = tri + [tri[0]] + hc + [tri[0]]
        fig.add_trace(go.Scatter(x=[p[0] for p in path], y=[p[1] for p in path], fill='toself', fillcolor=BG, mode='none', **ax))
    gx, gy = [], []
    def seg(x0, y0, x1, y1):
        for t in np.linspace(0, 1, 70):
            px, py = x0 + (x1 - x0) * t, y0 + (y1 - y0) * t
            if hull is not None and in_poly(px, py, hull):
                gx.append(None); gy.append(None)
            else:
                gx.append(px); gy.append(py)
        gx.append(None); gy.append(None)
    for k in range(0, 10):
        v = k / 10
        seg(v / 2, v, 1 - v / 2, v)
        seg(v, 0, .5 + v / 2, 1 - v)
        seg(1 - v, 0, .5 - v / 2, 1 - v)
    fig.add_trace(go.Scatter(x=gx, y=gy, mode='lines', line=dict(color='#a79f98', width=1, dash='4px,2px'), hoverinfo='skip', **ax))
    tx, ty = [], []
    ux, uy = 1 / side, 1 / hh
    for v in (0, .5, 1):
        tx += [.5 - v / 2, .5 - v / 2 - 6 * ux, None]; ty += [1 - v, 1 - v + 8 * uy, None]
        tx += [1 - v / 2, 1 - v / 2 + 11 * ux, None]; ty += [v, v, None]
        tx += [v, v - 6 * ux, None]; ty += [0, -8 * uy, None]
    fig.add_trace(go.Scatter(x=tx, y=ty, mode='lines', line=dict(color='#222', width=1.2), hoverinfo='skip', cliponaxis=False, **ax))
    xr, yr = 'x%d' % n, 'y%d' % n
    for v, lab in ((0, '0.0'), (.5, '0.5'), (1, '1.0')):
        text(.5 - v / 2, 1 - v, lab, size=22, xref=xr, yref=yr, dx=-15, dy=20)
        text(1 - v / 2, v, lab, size=22, xref=xr, yref=yr, dx=32, dy=3)
        text(v, 0, lab, size=22, xref=xr, yref=yr, dx=-12, dy=-20)
    text(.25, .5, 'Ionic', size=27.5, angle=-52, xref=xr, yref=yr, dx=-50, dy=40)
    text(.75, .5, 'Hydrophilic', size=27.5, angle=52, xref=xr, yref=yr, dx=67, dy=22)
    text(.5, 0, 'Hydrophobic', size=27.5, xref=xr, yref=yr, dx=hob[0], dy=hob[1])
    return ax

MAPS = [(7, 62, 423, 823.3, 1090, (10,-55), D_HULL, (D_X, D_H, D_Z, 100, [0,25,50,75,100], 303, 248), D_STARS),
        (8, 520.7, 882.7, 823.3, 1090, (10,-55), E_HULL, (E_X, E_H, E_Z, 75, [0,25,50,75], 302, 706.6), E_STARS),
        (9, 980, 1340, 823.3, 1090.7, (10,-55), F_HULL, (F_X, F_H, F_Z, 110, [0,25,50,75,100], 300, 1167), F_STARS)]
for n, l, r, t, b, hob, hull, heat, stars in MAPS:
    ax = frame(n, l, r, t, b, hob, hull, heat)
    xs = [stars[1], stars[0], stars[2], stars[3], stars[4]]
    fig.add_trace(go.Scatter(x=[p[0] for p in xs], y=[p[1] for p in xs], mode='lines', line=dict(color='black', width=2, dash='dot'), **ax))
    for p, col in zip(stars, STAR_ORDER_COLORS):
        fig.add_trace(go.Scatter(x=[p[0]], y=[p[1]], mode='markers', marker=dict(symbol='star', size=27, color=col, line=dict(color='#111', width=1.2)), **ax))
for cx, cy, lab in [(252.6, 1245.6, 'HRP REA [%]'), (721, 1247, 'GOx REA [%]'), (1171, 1245.6, 'Lip REA [%]')]:
    ptext(cx, cy, lab, size=28)
for x0, x1, tl, tr in [(96.4, 399.5, 82.6, 413.3), (555.6, 857.6, 539.6, 872.5), (1017, 1317, 1002, 1334)]:
    shapes.append(dict(type='path', xref='paper', yref='paper', path='M %f %f L %f %f L %f %f Z' % (fx(x0), fy(1172), fx(tl), fy(1184), fx(x0), fy(1196)),
                       fillcolor='#1b2a80', line=dict(color='black', width=1.2)))
    shapes.append(dict(type='path', xref='paper', yref='paper', path='M %f %f L %f %f L %f %f Z' % (fx(x1), fy(1172), fx(tr), fy(1184), fx(x1), fy(1196)),
                       fillcolor='#f2f02a', line=dict(color='black', width=1.2)))

SETS = [(10, 63, 431, 1463.3, 1730, (6,-51), [G_PINK, G_ORANGE, G_YELLOW, G_TEAL, G_BLUE], [G_X_PINK, G_X_ORANGE, G_X_YELLOW, G_X_TEAL, G_X_BLUE]),
        (11, 525, 891.7, 1460, 1726.7, (5,-51), [H_PINK, H_ORANGE, H_YELLOW, H_TEAL, H_BLUE], [H_X_PINK, H_X_ORANGE, H_X_YELLOW, H_X_TEAL, H_X_BLUE]),
        (12, 986.7, 1354.7, 1460.7, 1727, (8,-51), [I_PINK, I_ORANGE, I_YELLOW, I_BLUE, I_TEAL], [I_X_PINK, I_X_ORANGE, I_X_YELLOW, I_X_TEAL, I_X_BLUE])]
for n, l, r, t, b, hob, groups, crosses in SETS:
    ax = frame(n, l, r, t, b, hob)
    cols = [C_PINK, C_ORANGE, C_YELLOW, C_TEAL, C_BLUE]
    gcols = cols if n != 12 else [C_PINK, C_ORANGE, C_YELLOW, C_BLUE, C_TEAL]
    for pts, col in zip(crosses, cols):
        if pts:
            fig.add_trace(go.Scatter(x=[p[0] for p in pts], y=[p[1] for p in pts], mode='markers', cliponaxis=False, opacity=.85,
                                     marker=dict(symbol='x-thin', size=16, line=dict(color=col, width=2.2)), **ax))
    for pts, col in zip(groups, gcols):
        fig.add_trace(go.Scatter(x=[p[0] for p in pts], y=[p[1] for p in pts], mode='markers', cliponaxis=False, opacity=.95,
                                 marker=dict(size=15, color=col, line=dict(color='#111', width=1.5)), **ax))

layout['annotations'] = ann
layout['shapes'] = shapes
fig.update_layout(**layout)
fig.write_html('out.html', post_script="document.body.style.margin='0';", config=dict(displayModeBar=False))
